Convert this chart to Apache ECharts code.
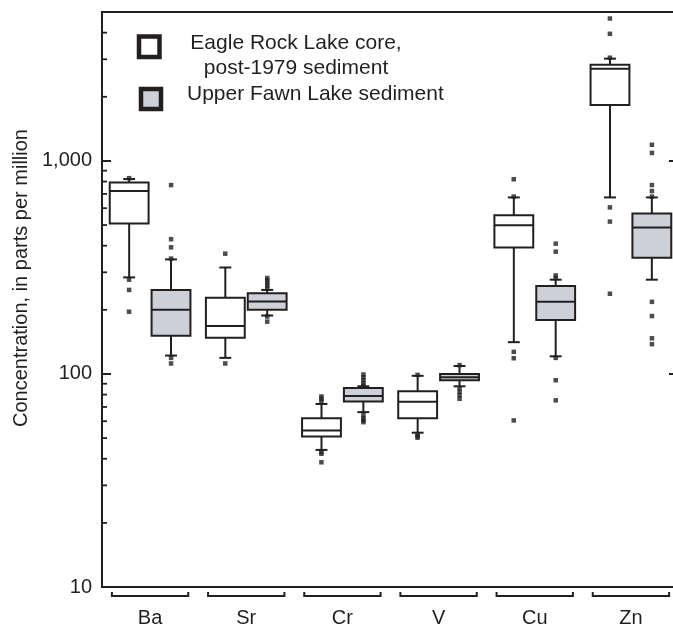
<!DOCTYPE html>
<html>
<head>
<meta charset="utf-8">
<script src="https://cdn.jsdelivr.net/npm/echarts@6/dist/echarts.min.js"></script>
<style>
html,body{margin:0;padding:0;background:#fff;overflow:hidden;width:673px;height:629px;}
#chart{width:680px;height:629px;}
</style>
</head>
<body>
<div id="chart"></div>
<script>
// ---- data ----
const categories = ['Ba', 'Sr', 'Cr', 'V', 'Cu', 'Zn'];
// [lower whisker, Q1, median, Q3, upper whisker]
const eagleRockBoxes = [
  [284, 508, 722, 791, 822],
  [119, 148, 168, 228, 316],
  [44, 50.8, 54.3, 62, 72.3],
  [53, 62, 74, 83, 98],
  [141, 392, 499, 556, 674],
  [674, 1832, 2707, 2830, 3020]
];
const upperFawnBoxes = [
  [122, 151, 200, 248, 345],
  [188, 200, 219, 239, 248],
  [66.2, 74.3, 78.7, 86, 87.5],
  [87.5, 93.4, 96.5, 100, 109],
  [121, 179, 218, 259, 277],
  [277, 351, 487, 567, 674]
];
const eagleRockOutliers = [
  [830, 277, 248, 196],
  [367, 112],
  [78.4, 76.5, 74.5, 43, 42.2, 38.5],
  [99, 52, 51, 50.2],
  [820, 680, 127, 118.5, 60.5],
  [4660, 3950, 3050, 605, 519, 238]
];
const upperFawnOutliers = [
  [770, 429, 393, 348, 119, 112],
  [282, 275, 268, 260, 253, 186, 176],
  [99.4, 96.5, 93.5, 90.5, 88, 64, 62, 60.5, 59.4],
  [110, 85.5, 82.5, 79.5, 76.5],
  [409, 375, 290, 282, 119, 93.4, 75.2],
  [1190, 1090, 770, 722, 680, 218, 187, 147, 138]
];
const yMinorTicks = [20, 30, 40, 50, 60, 70, 80, 90, 200, 300, 400, 500, 600, 700, 800, 900, 2000, 3000, 4000];
const yTickLabels = {10: '10', 100: '100', 1000: '1,000'};
const legendLabels = ['Eagle Rock Lake core,', 'post-1979 sediment', 'Upper Fawn Lake sediment'];
const yAxisTitle = 'Concentration, in parts per million';

// ---- styling ----
const INK = '#231f20';
const GRAY = '#cdd0d7';
const FONT = 'Liberation Sans, Arial, Helvetica, sans-serif';

function boxRenderer(offsetFrac, fill) {
  return function (params, api) {
    const i = api.value(0);
    const band = api.size([1, 0])[0];
    const cx = api.coord([i, api.value(3)])[0] + offsetFrac * band;
    const bw = band * 0.404, cw = band * 0.124;
    const y = k => api.coord([i, api.value(k)])[1];
    const yLow = y(1), yQ1 = y(2), yMed = y(3), yQ3 = y(4), yHigh = y(5);
    const st = {stroke: INK, lineWidth: 2, fill: null};
    return {
      type: 'group',
      children: [
        {type: 'line', shape: {x1: cx, y1: yQ1, x2: cx, y2: yLow}, style: st},
        {type: 'line', shape: {x1: cx, y1: yQ3, x2: cx, y2: yHigh}, style: st},
        {type: 'line', shape: {x1: cx - cw / 2, y1: yLow, x2: cx + cw / 2, y2: yLow}, style: st},
        {type: 'line', shape: {x1: cx - cw / 2, y1: yHigh, x2: cx + cw / 2, y2: yHigh}, style: st},
        {type: 'rect', shape: {x: cx - bw / 2, y: yQ3, width: bw, height: yQ1 - yQ3}, style: {fill: fill, stroke: INK, lineWidth: 2}},
        {type: 'line', shape: {x1: cx - bw / 2, y1: yMed, x2: cx + bw / 2, y2: yMed}, style: st}
      ]
    };
  };
}

function boxData(boxes) {
  return boxes.map((b, i) => [i].concat(b));
}
function outlierData(list) {
  const out = [];
  list.forEach((vals, i) => vals.forEach(v => out.push([i, v])));
  return out;
}

const chart = echarts.init(document.getElementById('chart'), null, {renderer: 'canvas'});
const option = {
  animation: false,
  backgroundColor: '#fff',
  grid: {left: 102, top: 12, bottom: 42, right: 1, show: true, borderColor: INK, borderWidth: 2, backgroundColor: 'transparent'},
  xAxis: {
    type: 'category',
    data: categories,
    axisLine: {show: true, lineStyle: {color: INK, width: 2}},
    axisTick: {show: false},
    axisLabel: {fontSize: 20, color: INK, margin: 21, fontFamily: FONT},
    splitLine: {show: false}
  },
  yAxis: [{
    type: 'log', logBase: 10, min: 10, max: 5000,
    axisLine: {show: true, lineStyle: {color: INK, width: 2}},
    axisTick: {show: true, inside: true, length: 9, lineStyle: {color: INK, width: 2}},
    axisLabel: {
      fontSize: 20, color: INK, margin: 10, fontFamily: FONT,
      formatter: v => yTickLabels[Math.round(v)] || ''
    },
    splitLine: {show: false}
  }, {
    type: 'log', logBase: 10, min: 10, max: 5000, position: 'right',
    axisLine: {show: true, lineStyle: {color: INK, width: 2}},
    axisTick: {show: true, inside: true, length: 10, lineStyle: {color: INK, width: 2}},
    axisLabel: {show: false},
    splitLine: {show: false}
  }],
  graphic: [
    {type: 'rect', shape: {x: 139, y: 36.5, width: 20.5, height: 20.5}, style: {fill: '#fff', stroke: INK, lineWidth: 4.5}},
    {type: 'rect', shape: {x: 141, y: 89, width: 20, height: 20}, style: {fill: GRAY, stroke: INK, lineWidth: 4.5}},
    {type: 'text', x: 296, y: 43, style: {text: legendLabels[0], fill: INK, font: '21px ' + FONT, textAlign: 'center', textVerticalAlign: 'middle'}},
    {type: 'text', x: 296, y: 68, style: {text: legendLabels[1], fill: INK, font: '21px ' + FONT, textAlign: 'center', textVerticalAlign: 'middle'}},
    {type: 'text', x: 187, y: 94.5, style: {text: legendLabels[2], fill: INK, font: '21px ' + FONT, textAlign: 'left', textVerticalAlign: 'middle'}},
    {type: 'text', x: 21, y: 278, rotation: Math.PI / 2, style: {text: yAxisTitle, fill: INK, font: '20px ' + FONT, textAlign: 'center', textVerticalAlign: 'middle'}}
  ],
  series: [
    {
      type: 'custom', name: 'Eagle Rock Lake core, post-1979 sediment',
      renderItem: boxRenderer(-0.2176, '#fff'),
      encode: {x: 0, y: [1, 2, 3, 4, 5]},
      data: boxData(eagleRockBoxes), z: 2
    },
    {
      type: 'custom', name: 'Upper Fawn Lake sediment',
      renderItem: boxRenderer(0.2176, GRAY),
      encode: {x: 0, y: [1, 2, 3, 4, 5]},
      data: boxData(upperFawnBoxes), z: 2
    },
    {
      type: 'scatter', symbol: 'rect', symbolSize: 4.5, symbolOffset: [-21, 0],
      itemStyle: {color: INK}, data: outlierData(eagleRockOutliers), z: 3
    },
    {
      type: 'scatter', symbol: 'rect', symbolSize: 4.5, symbolOffset: [21, 0],
      itemStyle: {color: INK}, data: outlierData(upperFawnOutliers), z: 3
    },
    {
      type: 'custom', z: 4,
      renderItem: function (params, api) {
        const p = api.coord([0, api.value(1)]);
        const band = api.size([1, 0])[0];
        const x0 = p[0] - band / 2;
        return {type: 'line', shape: {x1: x0, y1: p[1], x2: x0 + 5, y2: p[1]}, style: {stroke: INK, lineWidth: 1.8}};
      },
      encode: {x: 0, y: 1},
      data: yMinorTicks.map(v => [0, v])
    },
    {
      type: 'custom', z: 4, clip: false,
      renderItem: function (params, api) {
        const i = api.value(0);
        const p = api.coord([i, api.value(1)]);
        const band = api.size([1, 0])[0];
        const hw = band * 0.397;
        const y0 = p[1] + 9, y1 = p[1] + 5;
        return {type: 'polyline', shape: {points: [[p[0] - hw, y1], [p[0] - hw, y0], [p[0] + hw, y0], [p[0] + hw, y1]]}, style: {stroke: INK, lineWidth: 2, fill: null}};
      },
      encode: {x: 0, y: 1},
      data: categories.map((c, i) => [i, 10])
    }
  ]
};
chart.setOption(option);
</script>
</body>
</html>
